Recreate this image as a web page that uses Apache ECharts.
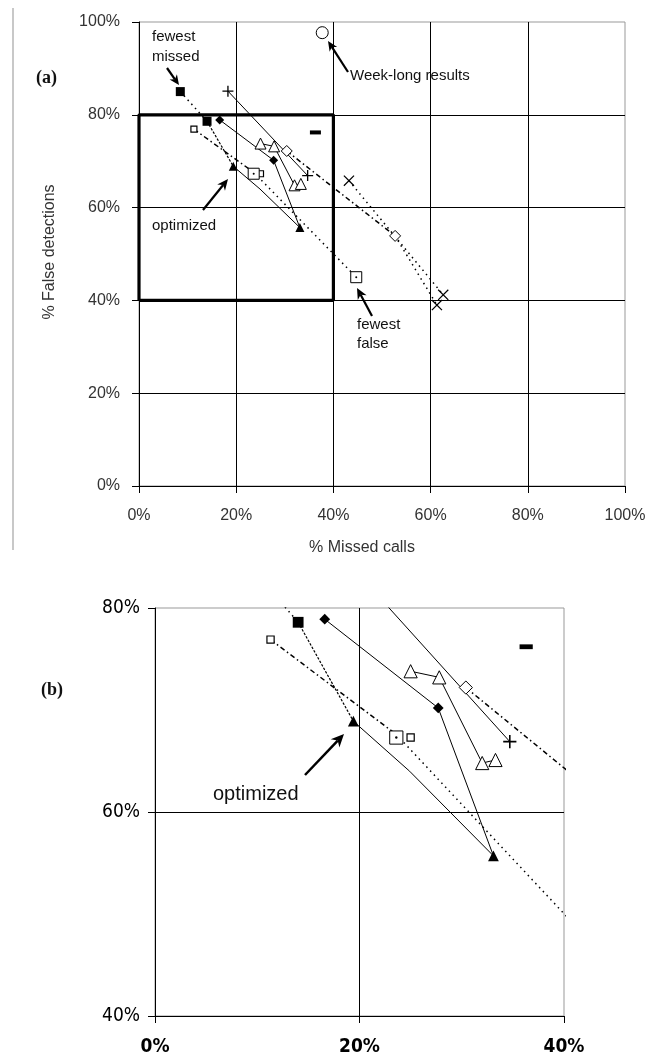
<!DOCTYPE html>
<html><head><meta charset="utf-8">
<script src="https://cdn.jsdelivr.net/npm/echarts@6/dist/echarts.min.js"></script>
<style>html,body{margin:0;padding:0;background:#fff}#main{width:660px;height:1059px}</style>
</head><body><div id="main"></div>
<script>
// values are [% missed calls, % false detections]
const filledSquares   = [[8.5,85.0],[14.0,78.6]];
const filledTriangles = [[19.4,68.9],[33.1,55.7]];
const filledDiamonds  = [[16.6,78.9],[27.7,70.2]];
const openTriangles   = [[25.0,73.8],[27.8,73.2],[32.0,64.8],[33.3,65.1]];
const plusPoints      = [[18.3,85.1],[34.7,66.9]];
const openDiamonds    = [[30.4,72.2],[52.7,53.9]];
const crossPoints     = [[43.2,65.8],[61.3,39.0],[62.6,41.2]];
const smallSquares    = [[11.3,76.9],[25.0,67.3]];
const bigSquares      = [[23.6,67.3],[44.7,45.0]];
const dashPoint       = [[36.3,76.2]];
const weekLong        = [[37.7,97.7]];

const fewestMissedPath = [[8.5,85.0],[14.0,78.6]];
const squareToTriangle = [[14.0,78.6],[19.4,68.9]];
const trianglePath     = [[19.4,68.9],[24.9,64.0],[33.1,55.7]];
const diamondPath      = [[16.6,78.9],[27.7,70.2],[33.1,55.7]];
const openTriPath      = [[25.0,73.8],[27.8,73.2],[32.0,64.8],[33.3,65.1]];
const plusPath         = [[18.3,85.1],[34.7,66.9]];
const openDiamondPath  = [[30.4,72.2],[52.7,53.9]];
const diamondTailPath  = [[52.7,53.9],[61.3,39.0]];
const crossPath        = [[43.2,65.8],[62.6,41.2]];
const squareDashDot    = [[11.3,76.9],[23.6,67.6]];
const squareDotted     = [[23.6,67.6],[44.7,45.0]];
const targetBox        = [[0,40],[0,80],[40,80],[40,40],[0,40]];

const DOT=[1.5,4], DASHDOT=[5,3,1.5,3], DENSE=[2.5,1.5];
const lineDefs = [
  {data:fewestMissedPath, type:DOT, w:1.5},
  {data:squareToTriangle, type:DENSE, w:1.2},
  {data:trianglePath, w:1},
  {data:diamondPath, w:1},
  {data:openTriPath, w:1},
  {data:plusPath, w:1},
  {data:openDiamondPath, type:DASHDOT, w:1.5},
  {data:diamondTailPath, type:DOT, w:1.5},
  {data:crossPath, type:DOT, w:1.5},
  {data:squareDashDot, type:DASHDOT, w:1.5},
  {data:squareDotted, type:DOT, w:1.5},
  {data:targetBox, w:3.2, only:0}
];
const PLUS='path://M0,4.4H10V5.6H0Z M4.4,0H5.6V10H4.4Z';
const CROSS='path://M0,0.8L0.8,0L10,9.2L9.2,10Z M9.2,0L10,0.8L0.8,10L0,9.2Z';
const markerDefs = [
  {data:filledSquares, symbol:'rect', size:9, fill:'#000'},
  {data:filledTriangles, symbol:'triangle', size:9, fill:'#000'},
  {data:filledDiamonds, symbol:'diamond', size:9, fill:'#000'},
  {data:openTriangles, symbol:'triangle', size:11, fill:'#fff', bw:1},
  {data:plusPoints, symbol:PLUS, size:11, fill:'#000'},
  {data:openDiamonds, symbol:'diamond', size:11, fill:'#fff', bw:1},
  {data:crossPoints, symbol:CROSS, size:11, fill:'#000'},
  {data:smallSquares, symbol:'rect', size:6, fill:'#fff', bw:1.2},
  {data:bigSquares, symbol:'rect', size:11, fill:'#fff', bw:1},
  {data:bigSquares, symbol:'circle', size:2, fill:'#000'},
  {data:dashPoint, symbol:'rect', size:[11,4], fill:'#000'},
  {data:weekLong, symbol:'circle', size:12, fill:'#fff', bw:1, only:0}
];

const series=[];
[0,1].forEach(gi=>{
  const k = gi ? 1.2 : 1;
  lineDefs.forEach(d=>{
    if(d.only!==undefined && d.only!==gi) return;
    series.push({type:'line', xAxisIndex:gi, yAxisIndex:gi, data:d.data, symbol:'none',
      lineStyle:{color:'#000', width:d.w, type:d.type||'solid'}, silent:true, z:2});
  });
  markerDefs.forEach(m=>{
    if(m.only!==undefined && m.only!==gi) return;
    const sz = Array.isArray(m.size) ? m.size.map(v=>v*k) : m.size*k;
    series.push({type:'scatter', xAxisIndex:gi, yAxisIndex:gi, data:m.data, symbol:m.symbol, symbolSize:sz,
      itemStyle:{color:m.fill, borderColor:'#000', borderWidth:m.bw||0, opacity:1}, silent:true, z:5});
  });
});

const fontA = 'Arial, "Liberation Sans", sans-serif';
const fontB = '"Liberation Sans Narrow", "Arial Narrow", "DejaVu Sans Condensed", "Liberation Sans", sans-serif';
function axis(gi, min, max, isX){
  const a = {gridIndex:gi, type:'value', min:min, max:max, interval:20,
    axisLine:{show:true, lineStyle:{color:'#000', width:1}},
    axisTick:{show:true, length:7, lineStyle:{color:'#000', width:1}},
    splitLine:{show:true, showMinLine:false, showMaxLine:false, lineStyle:{color:'#000', width:1}},
    axisLabel:{formatter:'{value}%', color:gi?'#000':'#333'}};
  if(gi===0){ Object.assign(a.axisLabel,{fontFamily:fontA, fontSize:16, margin:isX?22:19}); }
  else { Object.assign(a.axisLabel,{fontFamily:fontB, fontSize:19, margin:isX?22:15, fontWeight:isX?'bold':'normal'}); }
  return a;
}

function arrow(x1,y1,x2,y2,w,hl,hwid){
  const ang=Math.atan2(y2-y1,x2-x1);
  const c=Math.cos(ang), s=Math.sin(ang);
  const bx=x2-hl*c, by=y2-hl*s;
  const px=-s, py=c;
  const nx=bx+hl*0.3*c, ny=by+hl*0.3*s;
  return [
    {type:'line', shape:{x1:x1,y1:y1,x2:nx,y2:ny}, style:{stroke:'#000',lineWidth:w}, z:10},
    {type:'polygon', shape:{points:[[x2,y2],[bx+px*hwid,by+py*hwid],[nx,ny],[bx-px*hwid,by-py*hwid]]}, style:{fill:'#000'}, z:10}
  ];
}
function txt(s,x,y,font,align){
  return {type:'text', x:x, y:y, z:10, style:{text:s, font:font, fill:'#111', textAlign:align||'left', textVerticalAlign:'middle'}};
}
const f15='15px Arial, "Liberation Sans", sans-serif';
const graphic = [
  {type:'line', shape:{x1:13,y1:8,x2:13,y2:550}, style:{stroke:'#c8c8c8', lineWidth:2}},
  {type:'text', x:50, y:252, rotation:Math.PI/2, style:{text:'% False detections', font:'16px Arial, "Liberation Sans", sans-serif', fill:'#333', textAlign:'center', textVerticalAlign:'middle'}},
  {type:'text', x:362, y:548, style:{text:'% Missed calls', font:'16px Arial, "Liberation Sans", sans-serif', fill:'#333', textAlign:'center', textVerticalAlign:'middle'}},
  txt('(a)',36,78,'bold 18px "Liberation Serif", "Times New Roman", serif'),
  txt('(b)',41,690,'bold 18px "Liberation Serif", "Times New Roman", serif'),
  txt('fewest',152,37,f15), txt('missed',152,57,f15),
  txt('Week-long results',350,76,f15),
  txt('optimized',152,226,f15),
  txt('fewest',357,325,f15), txt('false',357,344,f15),
  txt('optimized',213,794,'20px Arial, "Liberation Sans", sans-serif')
].concat(arrow(167,68,179,85,2.2,10,4.5))
 .concat(arrow(348,72,328,41,2.2,10,4.5))
 .concat(arrow(203,210,228,179,2.2,11,5))
 .concat(arrow(372,316,357,288,2.2,11,5))
 .concat(arrow(305,775,344,734,2.5,13,6));

const chart = echarts.init(document.getElementById('main'), null, {renderer:'canvas'});
chart.setOption({
  animation:false,
  backgroundColor:'#fff',
  grid:[
    {left:139, top:22, width:486, height:464, show:true, borderColor:'#999', borderWidth:1, backgroundColor:'transparent'},
    {left:155, top:608, width:409, height:408, show:true, borderColor:'#999', borderWidth:1, backgroundColor:'transparent'}
  ],
  xAxis:[axis(0,0,100,true), axis(1,0,40,true)],
  yAxis:[axis(0,0,100,false), axis(1,40,80,false)],
  series:series,
  graphic:graphic
});
</script></body></html>
